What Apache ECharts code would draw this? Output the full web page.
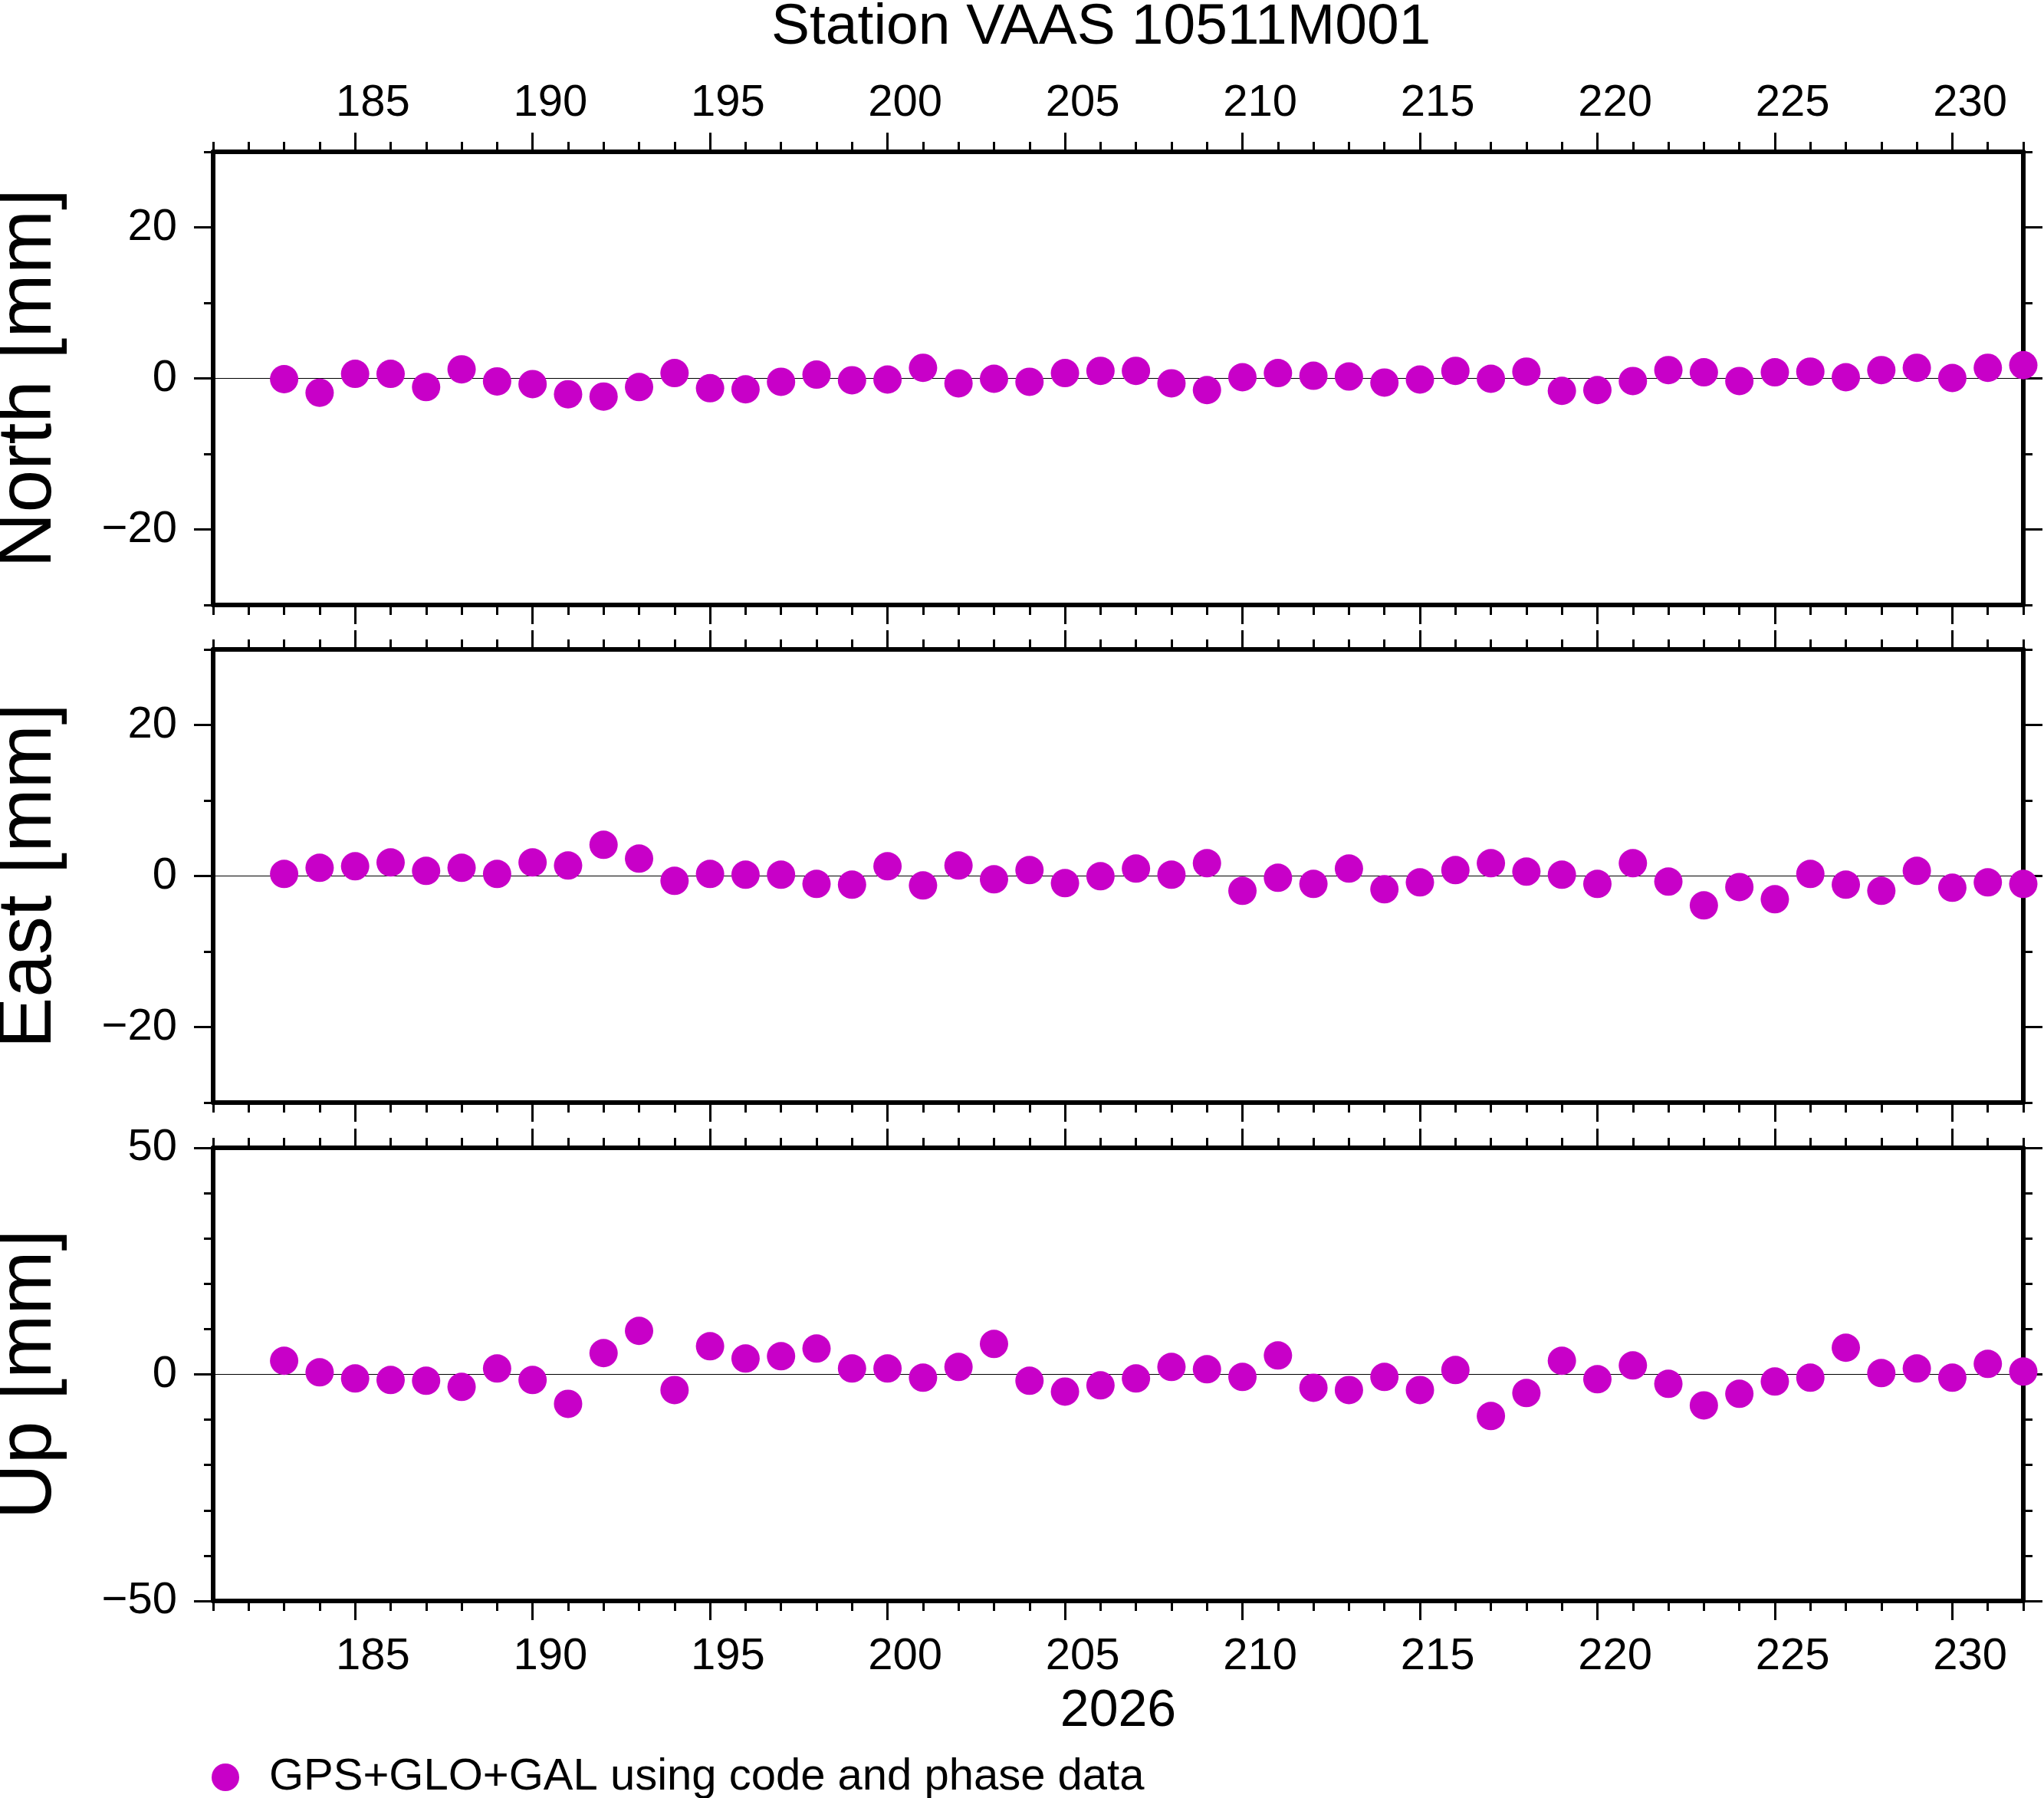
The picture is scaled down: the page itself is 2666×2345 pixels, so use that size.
<!DOCTYPE html>
<html>
<head>
<meta charset="utf-8">
<title>Station VAAS 10511M001</title>
<script src="https://cdn.jsdelivr.net/npm/echarts@6/dist/echarts.min.js"></script>
<style>
  html, body { margin: 0; padding: 0; background: #fff; }
  #chart { width: 2666px; height: 2345px; }
</style>
</head>
<body>
<div id="chart"></div>
<script>
// day of year 2026
var days = [183, 184, 185, 186, 187, 188, 189, 190, 191, 192,
            193, 194, 195, 196, 197, 198, 199, 200, 201, 202,
            203, 204, 205, 206, 207, 208, 209, 210, 211, 212,
            213, 214, 215, 216, 217, 218, 219, 220, 221, 222,
            223, 224, 225, 226, 227, 228, 229, 230, 231, 232];

var northMm = [-0.10, -1.90, 0.60, 0.60, -1.15, 1.20, -0.40, -0.75, -2.10, -2.40,
               -1.15, 0.70, -1.30, -1.45, -0.45, 0.50, -0.25, -0.15, 1.40, -0.65,
               -0.05, -0.45, 0.70, 1.00, 1.00, -0.65, -1.55, 0.15, 0.70, 0.35,
               0.25, -0.55, -0.15, 1.00, -0.05, 0.90, -1.65, -1.55, -0.35, 1.10,
               0.80, -0.35, 0.80, 0.90, 0.15, 1.10, 1.40, 0.05, 1.40, 1.75];

var eastMm = [0.27, 1.08, 1.29, 1.79, 0.68, 1.08, 0.27, 1.79, 1.39, 4.13,
              2.30, -0.64, 0.27, 0.17, 0.17, -1.05, -1.15, 1.29, -1.25, 1.39,
              -0.44, 0.78, -0.95, -0.03, 0.98, 0.17, 1.69, -1.96, -0.24, -1.05,
              0.98, -1.76, -0.85, 0.78, 1.69, 0.58, 0.17, -1.05, 1.69, -0.74,
              -3.89, -1.46, -3.08, 0.27, -1.15, -1.96, 0.68, -1.56, -0.85, -1.05];

var upMm = [3.00, 0.45, -0.90, -1.24, -1.41, -2.77, 1.30, -1.24, -6.50, 4.69,
            9.60, -3.45, 6.20, 3.50, 4.00, 5.70, 1.30, 1.30, -0.73, 1.64,
            6.72, -1.41, -3.80, -2.43, -0.90, 1.64, 1.13, -0.56, 4.18, -2.94,
            -3.45, -0.56, -3.45, 0.96, -9.20, -4.12, 3.00, -1.07, 1.98, -2.09,
            -6.84, -4.29, -1.58, -0.73, 5.88, 0.28, 1.30, -0.73, 2.32, 0.62];

var xMajorTicks = [185, 190, 195, 200, 205, 210, 215, 220, 225, 230];
var yTicksHoriz = [-20, 0, 20];
var yTicksUp = [-50, 0, 50];

var panelNames = ['North [mm]', 'East [mm]', 'Up [mm]'];
var seriesName = 'GPS+GLO+GAL using code and phase data';
var titleText = 'Station VAAS 10511M001';
var yearText = '2026';

var X_MIN = 181, X_MAX = 232;
var FONT = '"Liberation Sans", Arial, Helvetica, sans-serif';
var DOT = '#C800C8';

var myChart = echarts.init(document.getElementById('chart'), null, { renderer: 'canvas' });

var panels = [
    { data: northMm, min: -30, max: 30, ticks: yTicksHoriz },
    { data: eastMm,  min: -30, max: 30, ticks: yTicksHoriz },
    { data: upMm,    min: -50, max: 50, ticks: yTicksUp }
];

var gridTops = [198, 847, 1497];
var grids = [], xAxes = [], yAxes = [], series = [];

function minus(v) {
    return v < 0 ? '\u2212' + Math.abs(v) : String(v);
}

panels.forEach(function (p, g) {
    grids.push({ left: 278, right: 27, top: gridTops[g], height: 591,
                 containLabel: false, outerBoundsMode: 'none' });

    ['bottom', 'top'].forEach(function (pos) {
        // small ticks, one per day
        xAxes.push({
            type: 'value', gridIndex: g, position: pos,
            min: X_MIN, max: X_MAX, interval: 1,
            axisLine: { show: false, onZero: false },
            axisTick: { show: true, inside: false, length: 13, lineStyle: { color: '#000', width: 3 } },
            axisLabel: { show: false },
            splitLine: { show: false }
        });
        var showLabels = (pos === 'top' && g === 0) || (pos === 'bottom' && g === 2);
        xAxes.push({
            type: 'value', gridIndex: g, position: pos,
            min: X_MIN, max: X_MAX,
            name: (pos === 'bottom' && g === 2) ? yearText : '',
            nameLocation: 'middle', nameGap: 110,
            nameTextStyle: { fontSize: 68, fontFamily: FONT, color: '#000' },
            axisLine: { show: true, onZero: false, lineStyle: { color: '#000', width: 6 } },
            axisTick: { show: true, inside: false, length: 25, customValues: xMajorTicks,
                        lineStyle: { color: '#000', width: 3 } },
            axisLabel: {
                show: showLabels,
                // labels sit in the middle of the day
                customValues: xMajorTicks.map(function (d) { return d + 0.5; }),
                formatter: function (v) { return String(Math.floor(v)); },
                fontSize: 58, fontFamily: FONT, color: '#000',
                margin: pos === 'top' ? 34 : 44
            },
            splitLine: { show: false }
        });
    });

    ['left', 'right'].forEach(function (pos) {
        yAxes.push({
            type: 'value', gridIndex: g, position: pos,
            min: p.min, max: p.max, interval: 10,
            axisLine: { show: false, onZero: false },
            axisTick: { show: true, inside: false, length: 12, lineStyle: { color: '#000', width: 3 } },
            axisLabel: { show: false },
            splitLine: { show: false }
        });
        yAxes.push({
            type: 'value', gridIndex: g, position: pos,
            min: p.min, max: p.max,
            name: pos === 'left' ? panelNames[g] : '',
            nameLocation: 'middle', nameGap: 190,
            nameTextStyle: { fontSize: 100, fontFamily: FONT, color: '#000' },
            axisLine: { show: true, onZero: false, lineStyle: { color: '#000', width: 6 } },
            axisTick: { show: true, inside: false, length: 25, customValues: p.ticks,
                        lineStyle: { color: '#000', width: 3 } },
            axisLabel: {
                show: pos === 'left',
                customValues: p.ticks,
                formatter: minus,
                fontSize: 58, fontFamily: FONT, color: '#000',
                margin: 47
            },
            splitLine: { show: false }
        });
    });

    // zero reference line
    series.push({
        name: 'zero' + g,
        type: 'line',
        xAxisIndex: g * 4 + 1,
        yAxisIndex: g * 4 + 1,
        data: [[X_MIN, 0], [X_MAX, 0]],
        showSymbol: false,
        silent: true,
        z: 1,
        lineStyle: { color: '#000', width: 1.2 }
    });

    series.push({
        name: seriesName,
        type: 'scatter',
        xAxisIndex: g * 4 + 1,
        yAxisIndex: g * 4 + 1,
        symbol: 'circle',
        symbolSize: 37,
        clip: false,
        z: 3,
        itemStyle: { color: DOT, opacity: 1 },
        data: days.map(function (d, i) { return [d, p.data[i]]; })
    });
});

var option = {
    animation: false,
    backgroundColor: '#fff',
    title: {
        text: titleText,
        left: 1006,
        top: -1,
        padding: 0,
        textStyle: { fontSize: 75, fontWeight: 'normal', fontFamily: FONT, color: '#000' }
    },
    legend: {
        data: [seriesName],
        left: 276,
        top: 2289,
        padding: 0,
        selectedMode: false,
        icon: 'circle',
        itemWidth: 36,
        itemHeight: 36,
        itemStyle: { color: DOT },
        textStyle: { fontSize: 58, fontFamily: FONT, color: '#000', padding: [0, 0, 0, 34] }
    },
    grid: grids,
    xAxis: xAxes,
    yAxis: yAxes,
    series: series
};

myChart.setOption(option, true);
</script>
</body>
</html>
